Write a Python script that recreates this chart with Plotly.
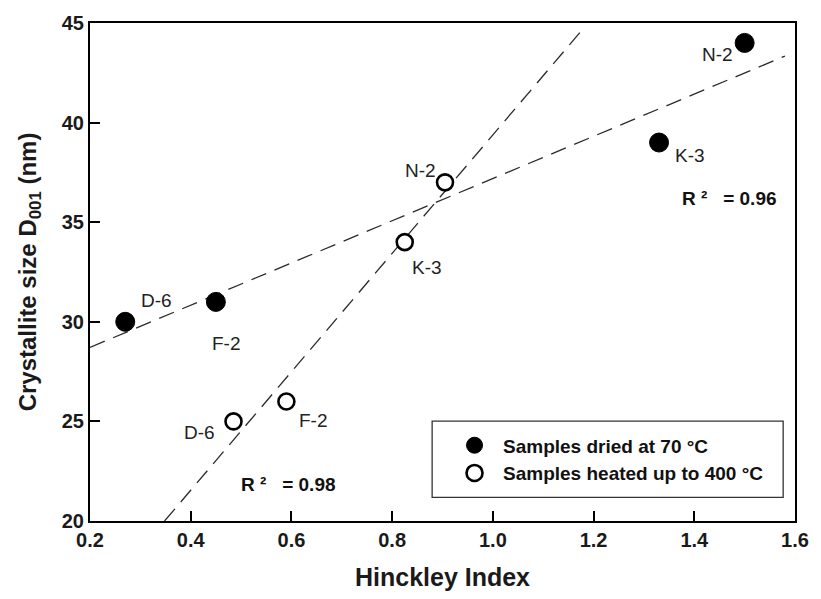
import numpy as np
import plotly.graph_objects as go

# Hinckley index vs crystallite size for each sample
samples = ["D-6", "F-2", "K-3", "N-2"]
hi_dried = [0.27, 0.45, 1.33, 1.50]
d001_dried = [30, 31, 39, 44]
hi_heated = [0.485, 0.59, 0.825, 0.905]
d001_heated = [25, 26, 34, 37]

r2_dried = "0.96"
r2_heated = "0.98"

# label offsets in pixels (dx, dy) for each sample label
off_dried = [(31, 21), (11, -42), (31, -13), (-27, -12)]
off_heated = [(-34, -11), (27, -19), (22, -25), (-25, 12)]

FONT = "Liberation Sans, Arial, sans-serif"
DASH = "16px,9px"

fig = go.Figure()

# least-squares trend lines
kd = np.polyfit(hi_dried, d001_dried, 1)
xd = np.array([0.2, 1.58])
fig.add_trace(go.Scatter(x=xd, y=np.polyval(kd, xd), mode="lines",
                         line=dict(color="#2a2a2a", width=1.3, dash=DASH),
                         showlegend=False, hoverinfo="skip"))
kh = np.polyfit(hi_heated, d001_heated, 1)
x_lo = (20 - kh[1]) / kh[0]
x_hi = (44.6 - kh[1]) / kh[0]
xh = np.array([x_lo, x_hi])
fig.add_trace(go.Scatter(x=xh, y=np.polyval(kh, xh), mode="lines",
                         line=dict(color="#2a2a2a", width=1.3, dash=DASH),
                         showlegend=False, hoverinfo="skip"))

fig.add_trace(go.Scatter(x=hi_dried, y=d001_dried, mode="markers",
                         name="<b>Samples dried at 70 °C</b>",
                         marker=dict(symbol="circle", size=19, color="black",
                                     line=dict(color="black", width=1))))
fig.add_trace(go.Scatter(x=hi_heated, y=d001_heated, mode="markers",
                         name="<b>Samples heated up to 400 °C</b>",
                         marker=dict(symbol="circle", size=16, color="white",
                                     line=dict(color="black", width=2.6))))

for xs, ys, offs in ((hi_dried, d001_dried, off_dried),
                     (hi_heated, d001_heated, off_heated)):
    for s, x, y, (dx, dy) in zip(samples, xs, ys, offs):
        fig.add_annotation(x=x, y=y, text=s, showarrow=False,
                           xshift=dx, yshift=dy,
                           font=dict(family=FONT, size=19, color="#222"))

fig.add_annotation(x=1.47, y=36.2, text="<b>R ²   = " + r2_dried + "</b>",
                   showarrow=False, font=dict(family=FONT, size=19, color="#111"),
                   xanchor="center")
fig.add_annotation(x=0.595, y=21.85, text="<b>R ²   = " + r2_heated + "</b>",
                   showarrow=False, font=dict(family=FONT, size=19, color="#111"),
                   xanchor="center")

# frame around the legend
fig.add_shape(type="rect", xref="paper", yref="paper",
              x0=0.4853, x1=0.9832, y0=0.0476, y1=0.2004,
              line=dict(color="#333", width=1.3), fillcolor="white", layer="below")

axis_common = dict(showgrid=False, zeroline=False, showline=True, mirror=True,
                   linecolor="black", linewidth=2.2, ticks="inside", ticklen=10,
                   tickwidth=1.6, tickcolor="black",
                   tickfont=dict(family=FONT, size=20, color="#1a1a1a",
                                 weight="bold"))

fig.update_xaxes(range=[0.2, 1.6], dtick=0.2, tickformat=".1f",
                 title=dict(text="<b>Hinckley Index</b>", standoff=18,
                            font=dict(family=FONT, size=25, color="#1a1a1a")),
                 **axis_common)
fig.update_yaxes(range=[20, 45], dtick=5,
                 title=dict(text="<b>Crystallite size D<sub>001</sub> (nm)</b>",
                            standoff=18,
                            font=dict(family=FONT, size=24, color="#1a1a1a")),
                 **axis_common)

fig.update_layout(
    width=821, height=599,
    margin=dict(l=90, r=16, t=20, b=76),
    plot_bgcolor="white", paper_bgcolor="white",
    font=dict(family=FONT, color="#222"),
    legend=dict(x=0.505, y=0.190, xanchor="left", yanchor="top",
                bgcolor="rgba(0,0,0,0)", borderwidth=0,
                font=dict(family=FONT, size=19, color="#111"),
                itemwidth=47, tracegroupgap=0),
)

fig.write_html("out.html")
